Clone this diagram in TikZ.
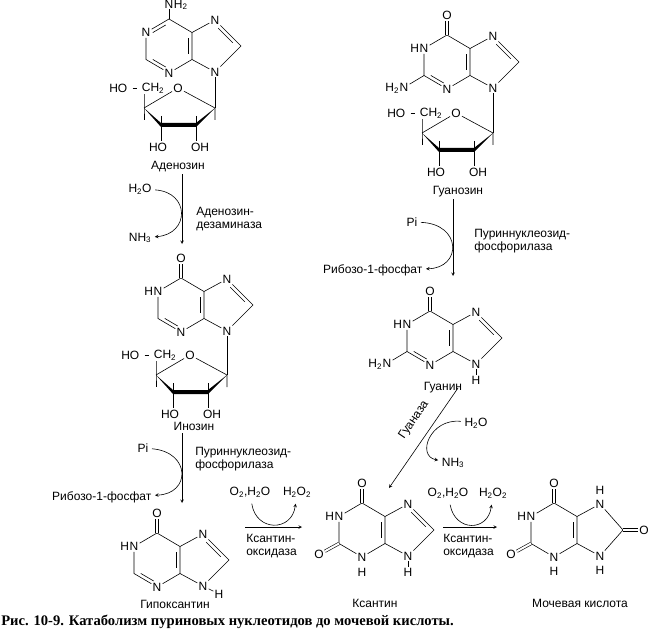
\documentclass[tikz,border=0pt]{standalone}
\usepackage{fontspec}
\setmainfont{Liberation Sans}
\newfontfamily\capfont{Liberation Serif}
\usetikzlibrary{positioning,arrows,calc}

\newcommand{\sbs}[1]{\textsubscript{#1}}

% second line of a ring double bond, #3 = ring centre
\newcommand{\innerbond}[3]{%
  \coordinate (f) at ($(#1)!(#3)!(#2)$);
  \coordinate (g) at ($(f)!3.5pt!(#3)$);
  \draw ($(#1)!.22!(#2)+(g)-(f)$) -- ($(#1)!.78!(#2)+(g)-(f)$);
}

% purine rings, #1 prefix, (#2,#3) centre of six-ring, #4 x of C8
\newcommand{\purine}[4]{%
  \coordinate (#1h) at (#2,#3);
  \coordinate (#1p) at (#2+49,#3);
  \coordinate (#1c6) at (#2,#3-27);
  \coordinate (#1n1) at (#2-23,#3-13.5);
  \coordinate (#1c2) at (#2-23,#3+13.5);
  \coordinate (#1n3) at (#2,#3+27);
  \coordinate (#1c4) at (#2+23,#3+13.5);
  \coordinate (#1c5) at (#2+23,#3-13.5);
  \coordinate (#1n7) at (#2+46,#3-26);
  \coordinate (#1c8) at (#2+#4,#3);
  \coordinate (#1n9) at (#2+46,#3+26);
  \node[atom] (#1N1) at (#1n1) {N};
  \node[atom] (#1N3) at (#1n3) {N};
  \node[atom] (#1N7) at (#1n7) {N};
  \node[atom] (#1N9) at (#1n9) {N};
  \draw (#1c6) -- (#1N1) -- (#1c2) -- (#1N3) -- (#1c4) -- (#1c5) -- (#1c6);
  \draw (#1c5) -- (#1N7) -- (#1c8) -- (#1N9) -- (#1c4);
  \innerbond{#1c4}{#1c5}{#1h}
}

% ribose, #1 prefix, (#2,#3) = C1'
\newcommand{\ribose}[3]{%
  \coordinate (#1r1) at (#2,#3);
  \coordinate (#1r2) at (#2-19,#3+17);
  \coordinate (#1r3) at (#2-54,#3+17);
  \coordinate (#1r4) at (#2-71,#3);
  \node[atom] (#1O) at (#2-37,#3-20) {O};
  \node[atom] (#1CH) at (#2-62,#3-20) {CH\sbs{2}};
  \node[atom,left=12pt of #1CH] (#1HO) {HO};
  \node[atom] (#1OHa) at (#2-57,#3+39) {HO};
  \node[atom] (#1OHb) at (#2-15,#3+39) {OH};
  \draw[shorten <=4pt,shorten >=4pt] (#1HO) -- (#1CH);
  \draw (#1r4) -- (#1O) -- (#1r1) -- +(0,12);
  \draw (#1r4 |- #1CH.south) -- (#1r4) -- +(0,12);
  \fill (#1r4) -- ($(#1r3)+(0,-2)$) -- ($(#1r2)+(0,-2)$) -- (#1r1)
    -- ($(#1r2)+(0,2)$) -- ($(#1r3)+(0,2)$) -- cycle;
  \draw ($(#1r3)+(0,-9)$) -- (#1r3 |- #1OHa.north);
  \draw ($(#1r2)+(0,-9)$) -- (#1r2 |- #1OHb.north);
}

\begin{document}
\begin{tikzpicture}[
  x=1pt, y=-1pt,
  line width=0.6pt,
  >=stealth,
  font=\fontsize{12}{12.5}\selectfont,
  atom/.style={inner sep=1pt},
  enz/.style={align=left,anchor=west,inner sep=0pt},
  dbl/.style={double,double distance=2pt}]
\useasboundingbox (0,0) rectangle (655,631);

% adenosine
\purine{ado}{169}{46}{72}
\node[atom] (adoNa) at (169,4) {N};
\node[atom,base right=-2pt of adoNa] (adoH2) {H\sbs{2}};
\draw (adoc6) -- (adoNa);
\innerbond{adoc6}{adon1}{adoh}
\innerbond{adoc2}{adon3}{adoh}
\innerbond{adon7}{adoc8}{adop}
\ribose{ado}{215}{108}
\draw (adoN9) -- (ador1);
\node (adoname) at (178,167) {Аденозин};

% guanosine
\purine{guo}{447}{62}{72}
\node[atom] (guoO6) at (447,15) {O};
\draw[dbl] (guoc6) -- (guoO6);
\node[atom,base left=-2pt of guoN1] (guoH1) {H};
\node[atom] (guoNa) at ($(guoc2)+(-20,12)$) {N};
\node[atom,base left=-2pt of guoNa] (guoH2) {H\sbs{2}};
\draw (guoc2) -- (guoNa);
\innerbond{guoc2}{guon3}{guoh}
\innerbond{guon7}{guoc8}{guop}
\ribose{guo}{493}{133}
\draw (guoN9) -- (guor1);
\node (guoname) at (458,192) {Гуанозин};

% inosine
\purine{ino}{181}{305}{72}
\node[atom] (inoO6) at (181,258) {O};
\draw[dbl] (inoc6) -- (inoO6);
\node[atom,base left=-2pt of inoN1] (inoH1) {H};
\innerbond{inoc2}{inon3}{inoh}
\innerbond{inon7}{inoc8}{inop}
\ribose{ino}{227}{375}
\draw (inoN9) -- (inor1);
\node (inoname) at (194,426) {Инозин};

% guanine
\purine{gua}{430}{338}{72}
\node[atom] (guaO6) at (430,291) {O};
\draw[dbl] (guac6) -- (guaO6);
\node[atom,base left=-2pt of guaN1] (guaH1) {H};
\node[atom] (guaNa) at ($(guac2)+(-20,12)$) {N};
\node[atom,base left=-2pt of guaNa] (guaH2) {H\sbs{2}};
\draw (guac2) -- (guaNa);
\node[atom] (guaH9) at ($(guan9)+(0,16)$) {H};
\draw (guaN9) -- (guaH9);
\innerbond{guac2}{guan3}{guah}
\innerbond{guan7}{guac8}{guap}
\node (guaname) at (443,388) {Гуанин};

% hypoxanthine
\purine{hyp}{157}{560}{72}
\node[atom] (hypO6) at (157,513) {O};
\draw[dbl] (hypc6) -- (hypO6);
\node[atom,base left=-2pt of hypN1] (hypH1) {H};
\node[atom] (hypH9) at ($(hypn9)+(16,8)$) {H};
\draw (hypN9) -- (hypH9);
\innerbond{hypc2}{hypn3}{hyph}
\innerbond{hypn7}{hypc8}{hypp}
\node (hypname) at (175,604) {Гипоксантин};

% xanthine
\purine{xan}{362}{530}{72}
\node[atom] (xanO6) at (362,483) {O};
\draw[dbl] (xanc6) -- (xanO6);
\node[atom] (xanO2) at ($(xanc2)+(-20,11)$) {O};
\draw[dbl] (xanc2) -- (xanO2);
\node[atom,base left=-2pt of xanN1] (xanH1) {H};
\node[atom] (xanH3) at ($(xann3)+(0,15)$) {H};
\node[atom] (xanH9) at ($(xann9)+(0,16)$) {H};
\draw (xanN9) -- (xanH9);
\innerbond{xann7}{xanc8}{xanp}
\node (xanname) at (375,603) {Ксантин};

% uric acid
\purine{uri}{554}{530}{69}
\node[atom] (uriO6) at (554,483) {O};
\draw[dbl] (uric6) -- (uriO6);
\node[atom] (uriO2) at ($(uric2)+(-20,11)$) {O};
\draw[dbl] (uric2) -- (uriO2);
\node[atom] (uriO8) at ($(uric8)+(21,0)$) {O};
\draw[dbl] (uric8) -- (uriO8);
\node[atom,base left=-2pt of uriN1] (uriH1) {H};
\node[atom] (uriH3) at ($(urin3)+(0,14)$) {H};
\node[atom] (uriH7) at ($(urin7)+(0,-14)$) {H};
\node[atom] (uriH9) at ($(urin9)+(0,14)$) {H};
\node (uriname) at (580,603) {Мочевая кислота};

% adenosine -> inosine
\coordinate (a1) at (182,174);
\coordinate (a2) at (182,244);
\draw[->] (a1) -- (a2);
\node (h2oA) at (140,189) {H\sbs{2}O};
\node (nh3A) at (140,238) {NH\sbs{3}};
\draw[->] (h2oA) .. controls (190,192) and (190,234) .. (nh3A);
\node[enz] (enzA) at (196,219) {Аденозин-\\дезаминаза};

% guanosine -> guanine
\coordinate (b1) at (453,199);
\coordinate (b2) at (453,276);
\draw[->] (b1) -- (b2);
\node (piB) at (412,222) {Pi};
\node[anchor=east] (ribB) at (426,270) {Рибозо-1-фосфат};
\draw[->] (piB) .. controls (462,224) and (462,268) .. (ribB);
\node[enz] (enzB) at (474,241) {Пуриннуклеозид-\\фосфорилаза};

% inosine -> hypoxanthine
\coordinate (c1) at (182,433);
\coordinate (c2) at (182,503);
\draw[->] (c1) -- (c2);
\node (piC) at (143,448) {Pi};
\node[anchor=east] (ribC) at (155,497) {Рибозо-1-фосфат};
\draw[->] (piC) .. controls (191,452) and (191,494) .. (ribC);
\node[enz] (enzC) at (195,459) {Пуриннуклеозид-\\фосфорилаза};

% hypoxanthine -> xanthine
\coordinate (d1) at (245,527);
\coordinate (d2) at (302,527);
\draw[->] (d1) -- (d2);
\node (o2D) at (250,492) {O\sbs{2},H\sbs{2}O};
\node (h2o2D) at (297,492) {H\sbs{2}O\sbs{2}};
\draw[->,shorten <=3pt,shorten >=3pt] (o2D) .. controls (256,532) and (292,532) .. (h2o2D);
\node[enz] (enzD) at (246,546) {Ксантин-\\оксидаза};

% xanthine -> uric acid
\coordinate (e1) at (443,527);
\coordinate (e2) at (497,527);
\draw[->] (e1) -- (e2);
\node (o2E) at (448,493) {O\sbs{2},H\sbs{2}O};
\node (h2o2E) at (493,493) {H\sbs{2}O\sbs{2}};
\draw[->,shorten <=3pt,shorten >=3pt] (o2E) .. controls (455,532) and (488,532) .. (h2o2E);
\node[enz] (enzE) at (443,546) {Ксантин-\\оксидаза};

% guanine -> xanthine
\coordinate (f1) at (458,388);
\coordinate (f2) at (389,488);
\draw[->] (f1) -- (f2);
\node[rotate=56,inner sep=0pt] (enzF) at (414,420) {Гуаназа};
\node (h2oF) at (476,423) {H\sbs{2}O};
\node (nh3F) at (453,463) {NH\sbs{3}};
\draw[->] (h2oF) .. controls (430,418) and (416,456) .. (nh3F);

\node[anchor=west,inner sep=0pt,font=\capfont\bfseries\fontsize{14.6}{16}\selectfont] (caption) at (1,622)
  {Рис. 10-9. Катаболизм пуриновых нуклеотидов до мочевой кислоты.};
\end{tikzpicture}
\end{document}
